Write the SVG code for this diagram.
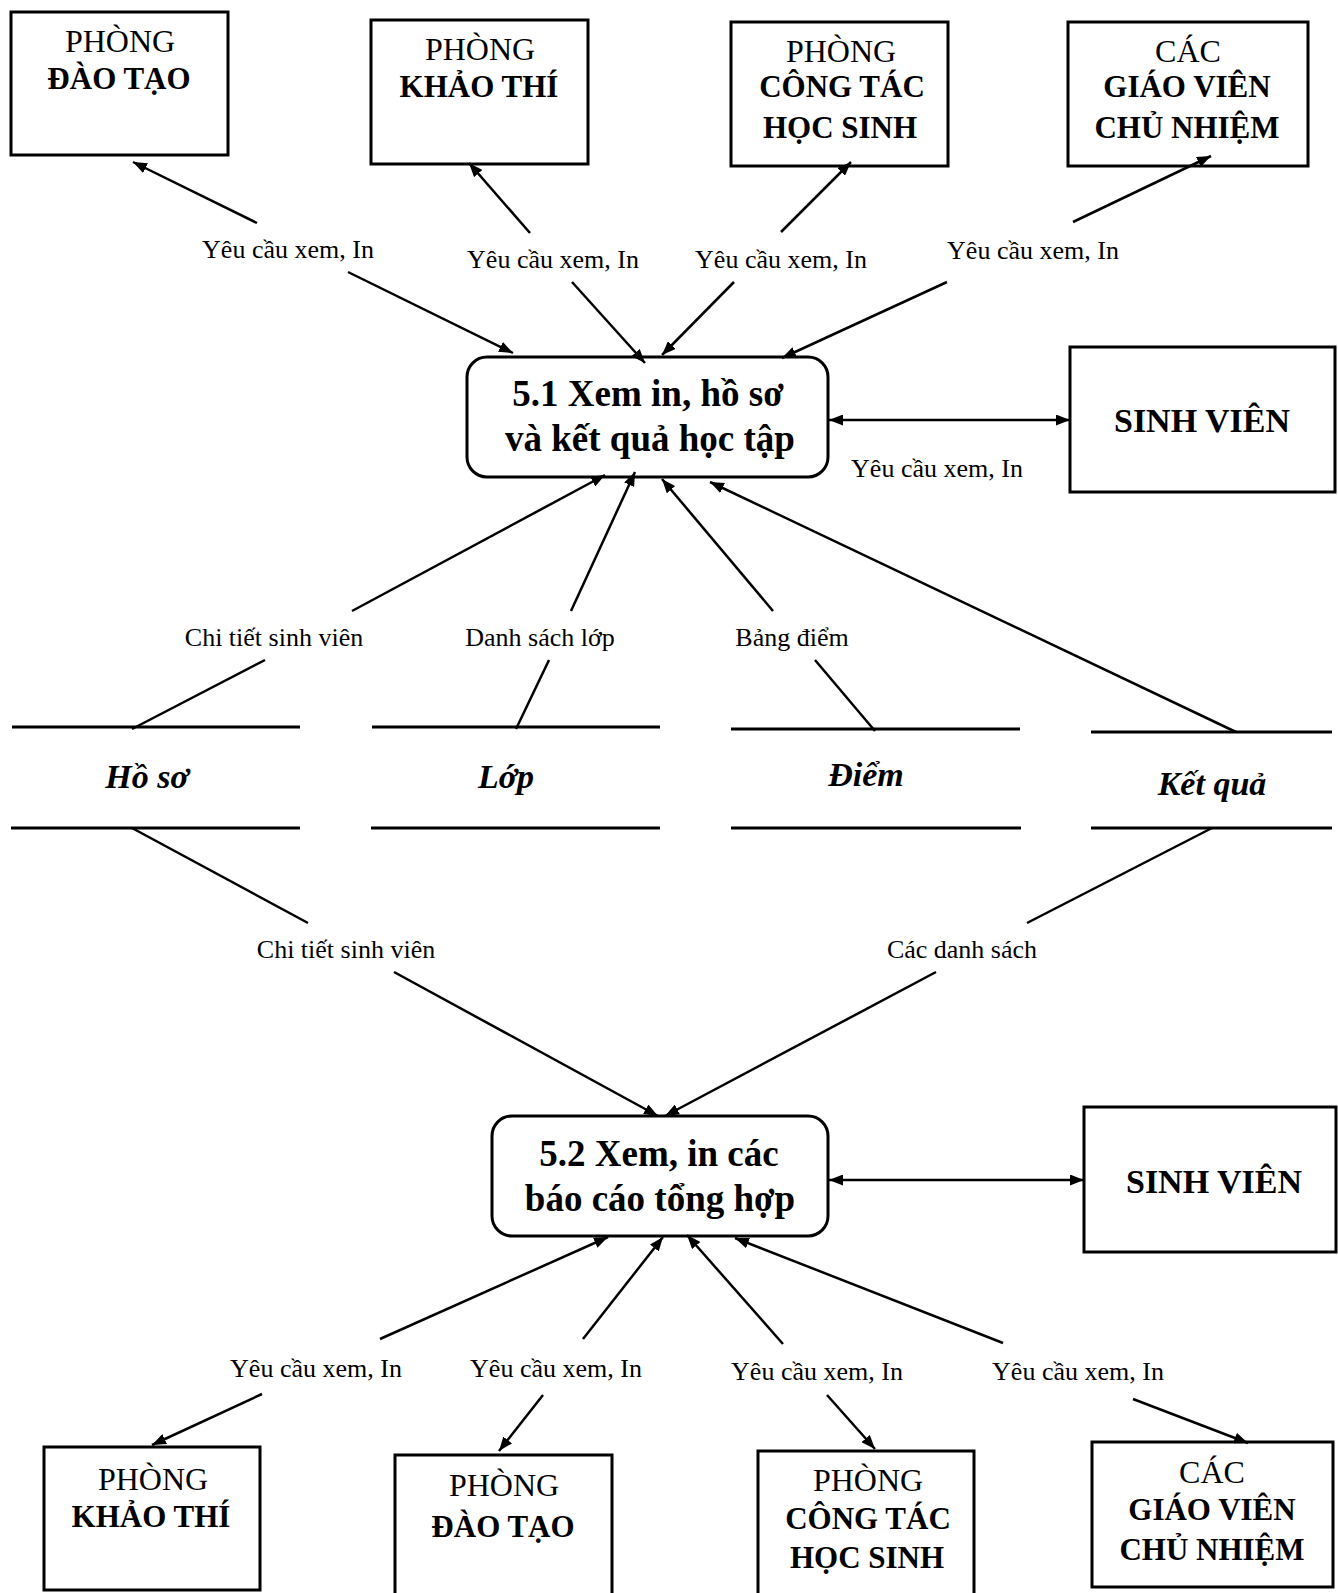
<svg xmlns="http://www.w3.org/2000/svg" width="1338" height="1593" viewBox="0 0 1338 1593">
  <style>
    .box { fill: #fff; stroke: #000; stroke-width: 3; }
    .proc { fill: #fff; stroke: #000; stroke-width: 3; }
    .store { stroke: #000; stroke-width: 3; }
    .flow { fill: none; stroke: #000; stroke-width: 2.5; }
    .arr { marker-end: url(#head); }
    .both { marker-start: url(#headStart); marker-end: url(#head); }
    text { font-family: "Liberation Serif", "Times New Roman", serif; fill: #000; text-anchor: middle; }
    .reg { font-size: 32px; }
    .bold { font-size: 31px; font-weight: bold; }
    .title { font-size: 37px; font-weight: bold; }
    .sv { font-size: 34px; font-weight: bold; }
    .lbl { font-size: 26px; }
    .ds { font-size: 34px; font-weight: bold; font-style: italic; }
  </style>
  <defs>
    <marker id="head" markerUnits="userSpaceOnUse" markerWidth="15" markerHeight="11" refX="14" refY="5.5" orient="auto">
      <path d="M0,0 L14,5.5 L0,11 z" fill="#000"/>
    </marker>
    <marker id="headStart" markerUnits="userSpaceOnUse" markerWidth="15" markerHeight="11" refX="14" refY="5.5" orient="auto-start-reverse">
      <path d="M0,0 L14,5.5 L0,11 z" fill="#000"/>
    </marker>
  </defs>

  <rect width="1338" height="1593" fill="#fff"/>

  <!-- top external entities -->
  <g id="top-dao-tao">
    <rect class="box" x="11" y="12" width="217" height="143"/>
    <text class="reg" x="120" y="52">PHÒNG</text>
    <text class="bold" x="119" y="89">ĐÀO TẠO</text>
  </g>
  <g id="top-khao-thi">
    <rect class="box" x="371" y="20" width="217" height="144"/>
    <text class="reg" x="480" y="60">PHÒNG</text>
    <text class="bold" x="479" y="97">KHẢO THÍ</text>
  </g>
  <g id="top-cong-tac-hs">
    <rect class="box" x="731" y="22" width="217" height="144"/>
    <text class="reg" x="841" y="62">PHÒNG</text>
    <text class="bold" x="842" y="97">CÔNG TÁC</text>
    <text class="bold" x="840" y="138">HỌC SINH</text>
  </g>
  <g id="top-gvcn">
    <rect class="box" x="1068" y="22" width="240" height="144"/>
    <text class="reg" x="1188" y="62">CÁC</text>
    <text class="bold" x="1187" y="97">GIÁO VIÊN</text>
    <text class="bold" x="1187" y="138">CHỦ NHIỆM</text>
  </g>

  <!-- process 5.1 -->
  <g id="process-5-1">
    <rect class="proc" x="467" y="357" width="361" height="120" rx="20" ry="20"/>
    <text class="title" x="648" y="406">5.1 Xem in, hồ sơ</text>
    <text class="title" x="650" y="451">và kết quả học tập</text>
  </g>
  <g id="sinh-vien-1">
    <rect class="box" x="1070" y="347" width="265" height="145"/>
    <text class="sv" x="1202" y="432">SINH VIÊN</text>
  </g>

  <!-- data stores -->
  <g id="store-ho-so">
    <line class="store" x1="12" y1="727" x2="300" y2="727"/>
    <line class="store" x1="11" y1="828" x2="300" y2="828"/>
    <text class="ds" x="147" y="788">Hồ sơ</text>
  </g>
  <g id="store-lop">
    <line class="store" x1="372" y1="727" x2="660" y2="727"/>
    <line class="store" x1="371" y1="828" x2="660" y2="828"/>
    <text class="ds" x="506" y="788">Lớp</text>
  </g>
  <g id="store-diem">
    <line class="store" x1="731" y1="729" x2="1020" y2="729"/>
    <line class="store" x1="731" y1="828" x2="1021" y2="828"/>
    <text class="ds" x="866" y="786">Điểm</text>
  </g>
  <g id="store-ket-qua">
    <line class="store" x1="1091" y1="732" x2="1332" y2="732"/>
    <line class="store" x1="1091" y1="828" x2="1332" y2="828"/>
    <text class="ds" x="1212" y="795">Kết quả</text>
  </g>

  <!-- process 5.2 -->
  <g id="process-5-2">
    <rect class="proc" x="492" y="1116" width="336" height="120" rx="20" ry="20"/>
    <text class="title" x="659" y="1166">5.2 Xem, in các</text>
    <text class="title" x="660" y="1211">báo cáo tổng hợp</text>
  </g>
  <g id="sinh-vien-2">
    <rect class="box" x="1084" y="1107" width="252" height="145"/>
    <text class="sv" x="1214" y="1193">SINH VIÊN</text>
  </g>

  <!-- bottom external entities -->
  <g id="bottom-khao-thi">
    <rect class="box" x="44" y="1447" width="216" height="143"/>
    <text class="reg" x="153" y="1490">PHÒNG</text>
    <text class="bold" x="151" y="1527">KHẢO THÍ</text>
  </g>
  <g id="bottom-dao-tao">
    <rect class="box" x="395" y="1455" width="217" height="150"/>
    <text class="reg" x="504" y="1496">PHÒNG</text>
    <text class="bold" x="503" y="1537">ĐÀO TẠO</text>
  </g>
  <g id="bottom-cong-tac-hs">
    <rect class="box" x="758" y="1451" width="216" height="150"/>
    <text class="reg" x="868" y="1491">PHÒNG</text>
    <text class="bold" x="868" y="1529">CÔNG TÁC</text>
    <text class="bold" x="867" y="1568">HỌC SINH</text>
  </g>
  <g id="bottom-gvcn">
    <rect class="box" x="1092" y="1442" width="241" height="145"/>
    <text class="reg" x="1212" y="1483">CÁC</text>
    <text class="bold" x="1212" y="1520">GIÁO VIÊN</text>
    <text class="bold" x="1212" y="1560">CHỦ NHIỆM</text>
  </g>

  <!-- connectors, drawn over the node borders so the arrowheads stay visible -->
  <g id="connectors">
    <!-- requests from the top departments to 5.1 -->
    <line class="flow arr" x1="257" y1="223" x2="133" y2="162"/>
    <line class="flow arr" x1="348" y1="272" x2="513" y2="353"/>
    <line class="flow arr" x1="530" y1="233" x2="469" y2="163"/>
    <line class="flow arr" x1="572" y1="282" x2="645" y2="363"/>
    <line class="flow arr" x1="781" y1="232" x2="851" y2="162"/>
    <line class="flow arr" x1="734" y1="282" x2="662" y2="355"/>
    <line class="flow arr" x1="1073" y1="222" x2="1211" y2="156"/>
    <line class="flow arr" x1="947" y1="282" x2="782" y2="358"/>

    <!-- 5.1 and student -->
    <line class="flow both" x1="829" y1="420" x2="1070" y2="420"/>

    <!-- data stores to 5.1 -->
    <line class="flow" x1="132" y1="729" x2="265" y2="660"/>
    <line class="flow arr" x1="352" y1="611" x2="605" y2="475"/>
    <line class="flow" x1="516" y1="729" x2="549" y2="660"/>
    <line class="flow arr" x1="571" y1="611" x2="635" y2="472"/>
    <line class="flow" x1="875" y1="731" x2="815" y2="660"/>
    <line class="flow arr" x1="773" y1="611" x2="662" y2="479"/>
    <line class="flow arr" x1="1236" y1="732" x2="710" y2="482"/>

    <!-- data stores to 5.2 -->
    <line class="flow" x1="132" y1="828" x2="308" y2="923"/>
    <line class="flow arr" x1="394" y1="972" x2="658" y2="1116"/>
    <line class="flow" x1="1212" y1="828" x2="1027" y2="923"/>
    <line class="flow arr" x1="936" y1="972" x2="665" y2="1116"/>

    <!-- 5.2 and student -->
    <line class="flow both" x1="829" y1="1180" x2="1084" y2="1180"/>

    <!-- requests from the bottom departments to 5.2 -->
    <line class="flow arr" x1="380" y1="1339" x2="608" y2="1237"/>
    <line class="flow arr" x1="262" y1="1394" x2="152" y2="1445"/>
    <line class="flow arr" x1="583" y1="1339" x2="663" y2="1237"/>
    <line class="flow arr" x1="543" y1="1395" x2="499" y2="1451"/>
    <line class="flow arr" x1="783" y1="1344" x2="687" y2="1235"/>
    <line class="flow arr" x1="827" y1="1395" x2="875" y2="1449"/>
    <line class="flow arr" x1="1003" y1="1343" x2="735" y2="1238"/>
    <line class="flow arr" x1="1133" y1="1399" x2="1248" y2="1443"/>
  </g>

  <!-- flow labels -->
  <g id="labels">
    <text class="lbl" x="288" y="258">Yêu cầu xem, In</text>
    <text class="lbl" x="553" y="268">Yêu cầu xem, In</text>
    <text class="lbl" x="781" y="268">Yêu cầu xem, In</text>
    <text class="lbl" x="1033" y="259">Yêu cầu xem, In</text>
    <text class="lbl" x="937" y="477">Yêu cầu xem, In</text>
    <text class="lbl" x="274" y="646">Chi tiết sinh viên</text>
    <text class="lbl" x="540" y="646">Danh sách lớp</text>
    <text class="lbl" x="792" y="646">Bảng điểm</text>
    <text class="lbl" x="346" y="958">Chi tiết sinh viên</text>
    <text class="lbl" x="962" y="958">Các danh sách</text>
    <text class="lbl" x="316" y="1377">Yêu cầu xem, In</text>
    <text class="lbl" x="556" y="1377">Yêu cầu xem, In</text>
    <text class="lbl" x="817" y="1380">Yêu cầu xem, In</text>
    <text class="lbl" x="1078" y="1380">Yêu cầu xem, In</text>
  </g>
</svg>
